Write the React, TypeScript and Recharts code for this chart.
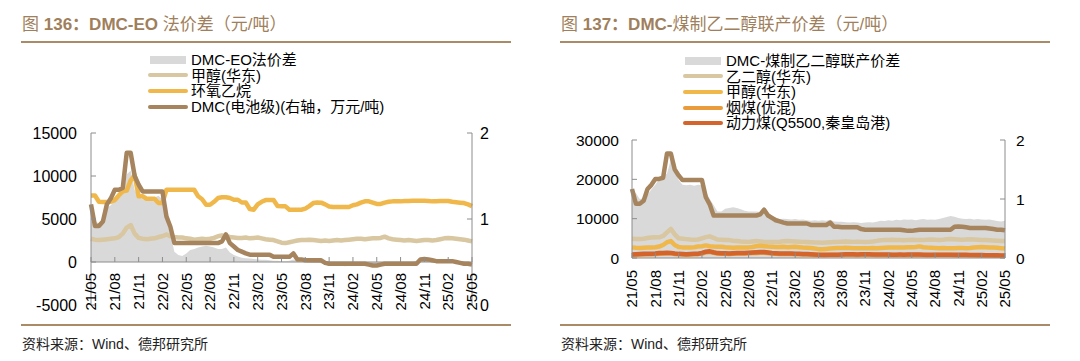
import { ComposedChart, Area, Line, XAxis, YAxis, ReferenceLine, Legend } from "recharts";

const FONT = '"Liberation Sans", Arial, "Noto Sans CJK SC", sans-serif';
const AXIS = "#8c8c8c";
const GRAY = "#d9d9d9";
const TAN = "#d8c7a0";
const GOLD = "#f0b84a";
const BROWN = "#a6845e";
const ORANGE = "#ea9b3c";
const RUST = "#d3642b";
const TITLE = "#9f7f5c";
const RULE = "#a98b67";

// month labels, 21/05 .. 25/05
const months = [
  "21/05", "21/06", "21/07", "21/08", "21/09", "21/10", "21/11", "21/12",
  "22/01", "22/02", "22/03", "22/04", "22/05", "22/06", "22/07", "22/08", "22/09", "22/10", "22/11", "22/12",
  "23/01", "23/02", "23/03", "23/04", "23/05", "23/06", "23/07", "23/08", "23/09", "23/10", "23/11", "23/12",
  "24/01", "24/02", "24/03", "24/04", "24/05", "24/06", "24/07", "24/08", "24/09", "24/10", "24/11", "24/12",
  "25/01", "25/02", "25/03", "25/04", "25/05",
];
// two readings a month (1st and 16th), last month only the 1st
const dates = months.flatMap((m, i) => (i < months.length - 1 ? [m, m + "·16"] : [m]));

// DMC (battery grade), 万元/吨, right axis in both charts
const dmc = [
  1.17, 0.92, 0.92, 0.97, 1.17, 1.24, 1.34, 1.34, 1.36, 1.77, 1.77, 1.5,
  1.4, 1.32, 1.32, 1.32, 1.32, 1.32, 1.32, 1.03, 0.91, 0.72, 0.72, 0.72,
  0.72, 0.72, 0.72, 0.72, 0.72, 0.72, 0.72, 0.72, 0.72, 0.74, 0.82, 0.72,
  0.68, 0.64, 0.62, 0.6, 0.585, 0.585, 0.585, 0.585, 0.585, 0.585, 0.56, 0.56,
  0.56, 0.56, 0.56, 0.6, 0.53, 0.53, 0.52, 0.52, 0.52, 0.52, 0.52, 0.49,
  0.48, 0.48, 0.48, 0.48, 0.48, 0.48, 0.48, 0.48, 0.48, 0.48, 0.47, 0.46,
  0.46, 0.47, 0.48, 0.48, 0.48, 0.48, 0.48, 0.48, 0.48, 0.48, 0.48, 0.53,
  0.535, 0.53, 0.52, 0.51, 0.51, 0.51, 0.51, 0.51, 0.5, 0.49, 0.48, 0.48,
  0.47,
];

// 甲醇(华东), 元/吨
const methanol = [
  2700, 2600, 2550, 2600, 2650, 2700, 2750, 2900, 3300, 4000, 4300, 3300,
  2800, 2700, 2650, 2700, 2750, 2900, 3000, 3200, 3000, 2900, 2850, 2850,
  2750, 2700, 2600, 2650, 2700, 2650, 2700, 2800, 3000, 3100, 3000, 2900,
  2850, 2800, 2800, 2850, 2750, 2800, 2850, 2750, 2650, 2600, 2550, 2400,
  2250, 2200, 2300, 2400, 2500, 2550, 2550, 2600, 2550, 2500, 2450, 2500,
  2450, 2500, 2550, 2500, 2550, 2600, 2650, 2700, 2700, 2650, 2700, 2750,
  2750, 2800, 2950, 2750, 2650, 2600, 2550, 2500, 2550, 2500, 2450, 2500,
  2550, 2550, 2500, 2550, 2650, 2750, 2800, 2750, 2700, 2650, 2600, 2500,
  2400,
];

// 环氧乙烷, 元/吨
const eo = [
  7740, 7740, 7000, 6970, 6970, 7000, 7200, 7740, 8210, 8300, 9500, 10100,
  7640, 7640, 7360, 7360, 7360, 6860, 6860, 8400, 8400, 8400, 8400, 8400,
  8400, 8400, 8400, 7640, 7300, 6660, 6660, 7000, 7440, 7530, 7530, 7440,
  7240, 7240, 6920, 6920, 6160, 6080, 6700, 7000, 7200, 7200, 7200, 6500,
  6470, 6470, 6080, 6080, 6080, 6080, 6200, 6500, 6850, 6920, 6900, 6700,
  6450, 6400, 6400, 6400, 6400, 6400, 6600, 6700, 6900, 7050, 7050, 6900,
  6750, 6750, 6900, 7000, 7050, 7050, 7050, 7100, 7100, 7120, 7120, 7120,
  7120, 7100, 7050, 7050, 7080, 7100, 7100, 7000, 6950, 6900, 6860, 6700,
  6500,
];

// DMC-EO法价差, 元/吨
const dmcEoSpread = [
  6300, 4700, 4500, 4800, 6300, 6600, 7200, 7400, 7900, 10200, 10600, 8400,
  7600, 7300, 7200, 7400, 7500, 7700, 7300, 5000, 3300, 1200, 800, 700,
  1000, 1400, 1500, 1700, 1800, 1900, 1800, 1700, 1500, 1500, 1700, 1100,
  800, 650, 500, 450, 400, 350, 300, 250, 250, 200, 150, 150,
  100, 100, 150, 300, 50, 0, 0, -50, -100, -100, -150, -300,
  -400, -450, -400, -450, -500, -450, -400, -400, -350, -300, -300, -300,
  -250, -300, -300, -250, -300, -250, -200, -150, -100, 0, 100, 200,
  150, 100, 100, 50, 50, 0, 0, 50, 0, -100, -150, -200,
  -300,
];

// DMC-煤制乙二醇联产价差, 元/吨
const coprodSpread = [
  17300, 16500, 15000, 15200, 16000, 17500, 18600, 20000, 20700, 21500, 25000, 24500,
  19800, 18600, 18500, 18600, 18400, 18600, 18500, 17000, 15000, 13500, 11800, 11800,
  12500, 12700, 12900, 12700, 12400, 12000, 11800, 11800, 11800, 11700, 12000, 11500,
  10800, 10300, 9900, 10000, 9900, 9800, 9900, 9700, 9800, 9600, 9500, 9600,
  9500, 9600, 9500, 9700, 9300, 9200, 9200, 9100, 9000, 9100, 9000, 8900,
  9000, 9100, 9000, 9200, 9500, 9400, 9600, 9500, 9700, 9600, 9800, 9700,
  9800, 9600, 9800, 9900, 9700, 9800, 9700, 9900, 10200, 10400, 10700, 10500,
  10200, 10000, 9900, 10000, 9800, 9900, 9800, 9700, 9800, 9600, 9400, 9300,
  9500,
];

// 乙二醇(华东), 元/吨
const eg = [
  4900, 4850, 4800, 4900, 5100, 5200, 5300, 5250, 5600, 6500, 7400, 6000,
  5000, 4900, 4800, 4700, 4650, 4700, 5000, 5300, 5500, 5100, 4700, 4650,
  4600, 4550, 4400, 4300, 4200, 4150, 4100, 4200, 4300, 4200, 4100, 4050,
  4050, 4100, 4150, 4250, 4300, 4250, 4200, 4150, 4100, 4050, 4000, 3950,
  3950, 3900, 3950, 4000, 4050, 4100, 4150, 4200, 4150, 4100, 4150, 4100,
  4050, 4100, 4200, 4350, 4500, 4550, 4600, 4650, 4600, 4550, 4500, 4600,
  4650, 4600, 4550, 4600, 4650, 4700, 4650, 4600, 4650, 4750, 4800, 4750,
  4700, 4650, 4700, 4750, 4700, 4650, 4600, 4550, 4500, 4450, 4400, 4350,
  4350,
];

// 烟煤(优混), 元/吨
const bituminous = [
  780, 820, 870, 920, 930, 970, 1020, 1100, 1150, 1200, 1180, 1030,
  930, 880, 850, 880, 930, 980, 1150, 1450, 1550, 1300, 1120, 1080,
  1070, 1030, 1080, 1120, 1130, 1170, 1210, 1250, 1300, 1350, 1340, 1250,
  1120, 1070, 1030, 1030, 1020, 1020, 980, 930, 880, 880, 840, 790,
  750, 700, 700, 740, 750, 750, 790, 840, 840, 840, 790, 840,
  840, 820, 810, 790, 790, 770, 750, 740, 740, 750, 740, 750,
  760, 750, 750, 740, 730, 730, 740, 740, 740, 740, 740, 730,
  710, 700, 690, 680, 670, 660, 640, 620, 610, 590, 570, 550,
  540,
];

// 动力煤(Q5500,秦皇岛港), 元/吨
const thermal = [
  900, 950, 1000, 1050, 1050, 1100, 1150, 1250, 1300, 1350, 1300, 1150,
  1050, 1000, 950, 1000, 1050, 1100, 1300, 1600, 1700, 1450, 1250, 1200,
  1200, 1150, 1200, 1250, 1250, 1300, 1350, 1400, 1450, 1500, 1500, 1400,
  1250, 1200, 1150, 1150, 1150, 1150, 1100, 1050, 1000, 1000, 950, 900,
  850, 800, 800, 850, 850, 850, 900, 950, 950, 950, 900, 950,
  950, 930, 920, 900, 900, 880, 860, 850, 850, 860, 850, 860,
  870, 860, 860, 850, 840, 840, 850, 850, 850, 850, 850, 840,
  820, 810, 800, 790, 780, 770, 750, 730, 720, 700, 680, 650,
  640,
];

const leftTicks = [-5000, 0, 5000, 10000, 15000];
const dmcTicks = [0, 1, 2];
const coprodTicks = [0, 10000, 20000, 30000];

const leftData = dates.map((d, i) => ({
  d,
  spread: dmcEoSpread[i],
  methanol: methanol[i],
  eo: eo[i],
  dmc: dmc[i],
}));

const rightData = dates.map((d, i) => ({
  d,
  spread: coprodSpread[i],
  eg: eg[i],
  methanol: methanol[i],
  bituminous: bituminous[i],
  thermal: thermal[i],
  dmc: dmc[i],
}));

type LegendItem = { name: string; color: string; kind: "area" | "line" };

const leftLegend: LegendItem[] = [
  { name: "DMC-EO法价差", color: GRAY, kind: "area" },
  { name: "甲醇(华东)", color: TAN, kind: "line" },
  { name: "环氧乙烷", color: GOLD, kind: "line" },
  { name: "DMC(电池级)(右轴，万元/吨)", color: BROWN, kind: "line" },
];

const rightLegend: LegendItem[] = [
  { name: "DMC-煤制乙二醇联产价差", color: GRAY, kind: "area" },
  { name: "乙二醇(华东)", color: TAN, kind: "line" },
  { name: "甲醇(华东)", color: GOLD, kind: "line" },
  { name: "烟煤(优混)", color: ORANGE, kind: "line" },
  { name: "动力煤(Q5500,秦皇岛港)", color: RUST, kind: "line" },
];

const LegendBox = ({ items }: { items: LegendItem[] }) => (
  <div style={{ fontFamily: FONT, fontSize: 15, color: "#000" }}>
    {items.map((it) => (
      <div key={it.name} style={{ display: "flex", alignItems: "center", height: 15.6 }}>
        <span style={{ width: 40, display: "flex", justifyContent: "center" }}>
          {it.kind === "area" ? (
            <span style={{ width: 36, height: 8, background: it.color }} />
          ) : (
            <span style={{ width: 40, height: 4, borderRadius: 2, background: it.color }} />
          )}
        </span>
        <span style={{ marginLeft: 3, whiteSpace: "nowrap", lineHeight: "15.6px" }}>{it.name}</span>
      </div>
    ))}
  </div>
);

// rotated date label, hung below the zero line; tick mark points up into the plot
const DateTick = (props: any) => {
  const { x, y, payload, zeroOffset, gap } = props;
  const y0 = y - zeroOffset;
  const ty = y0 + gap;
  return (
    <g>
      <line x1={x} x2={x} y1={y0} y2={y0 - 5} stroke={AXIS} />
      <text
        x={x}
        y={ty}
        transform={`rotate(-90 ${x} ${ty})`}
        textAnchor="end"
        dy="0.35em"
        fontSize={15}
        fontFamily={FONT}
        fill="#000"
      >
        {payload.value}
      </text>
    </g>
  );
};

const tickStyle = { fontSize: 16, fill: "#000", fontFamily: FONT };

const lineProps = {
  type: "linear" as const,
  dot: false,
  activeDot: false,
  strokeWidth: 4.5,
  strokeLinejoin: "round" as const,
  isAnimationActive: false,
};

const LeftChart = () => (
  <ComposedChart width={540} height={361} data={leftData} margin={{ top: 133, right: 28, bottom: 46, left: 0 }}>
    <XAxis
      dataKey="d"
      interval={5}
      height={10}
      axisLine={false}
      tickLine={false}
      tickSize={0}
      tickMargin={0}
      tick={<DateTick zeroOffset={43} gap={11} />}
    />
    <YAxis
      yAxisId="l"
      width={91}
      domain={[-5000, 15000]}
      ticks={leftTicks}
      tick={tickStyle}
      axisLine={{ stroke: AXIS }}
      tickLine={{ stroke: AXIS }}
      tickSize={-5}
      tickMargin={19}
    />
    <YAxis
      yAxisId="r"
      orientation="right"
      width={40}
      domain={[0, 2]}
      ticks={dmcTicks}
      tick={tickStyle}
      axisLine={{ stroke: AXIS }}
      tickLine={{ stroke: AXIS }}
      tickSize={-5}
      tickMargin={13}
    />
    <Area yAxisId="l" dataKey="spread" type="linear" fill={GRAY} fillOpacity={1} stroke="none" isAnimationActive={false} />
    <ReferenceLine yAxisId="l" y={0} stroke={AXIS} />
    <Line yAxisId="l" dataKey="methanol" stroke={TAN} {...lineProps} />
    <Line yAxisId="l" dataKey="eo" stroke={GOLD} {...lineProps} />
    <Line yAxisId="r" dataKey="dmc" stroke={BROWN} {...lineProps} />
    <Legend
      layout="vertical"
      align="center"
      verticalAlign="middle"
      wrapperStyle={{ left: 148, top: 52, width: "auto", height: "auto" }}
      content={() => <LegendBox items={leftLegend} />}
    />
  </ComposedChart>
);

const RightChart = () => (
  <ComposedChart width={540} height={361} data={rightData} margin={{ top: 140, right: 34, bottom: 93, left: 0 }}>
    <XAxis
      dataKey="d"
      interval={5}
      height={10}
      axisLine={{ stroke: AXIS }}
      tickLine={false}
      tickSize={0}
      tickMargin={0}
      tick={<DateTick zeroOffset={0} gap={12} />}
    />
    <YAxis
      yAxisId="l"
      width={93}
      domain={[0, 30000]}
      ticks={coprodTicks}
      tick={{ ...tickStyle, fontSize: 15.5 }}
      axisLine={{ stroke: AXIS }}
      tickLine={{ stroke: AXIS }}
      tickSize={-5}
      tickMargin={18}
    />
    <YAxis
      yAxisId="r"
      orientation="right"
      width={40}
      domain={[0, 2]}
      ticks={dmcTicks}
      tick={{ ...tickStyle, fontSize: 15.5 }}
      axisLine={{ stroke: AXIS }}
      tickLine={{ stroke: AXIS }}
      tickSize={-5}
      tickMargin={16}
    />
    <Area yAxisId="l" dataKey="spread" type="linear" fill={GRAY} fillOpacity={1} stroke="none" isAnimationActive={false} />
    <Line yAxisId="l" dataKey="eg" stroke={TAN} {...lineProps} />
    <Line yAxisId="l" dataKey="methanol" stroke={GOLD} {...lineProps} />
    <Line yAxisId="l" dataKey="bituminous" stroke={ORANGE} {...lineProps} />
    <Line yAxisId="l" dataKey="thermal" stroke={RUST} {...lineProps} />
    <Line yAxisId="r" dataKey="dmc" stroke={BROWN} legendType="none" {...lineProps} />
    <Legend
      layout="vertical"
      align="center"
      verticalAlign="middle"
      wrapperStyle={{ left: 144, top: 53, width: "auto", height: "auto" }}
      content={() => <LegendBox items={rightLegend} />}
    />
  </ComposedChart>
);

const Panel = ({
  left,
  num,
  boldPart,
  rest,
  children,
}: {
  left: number;
  num: string;
  boldPart: string;
  rest: string;
  children: React.ReactNode;
}) => (
  <div style={{ position: "absolute", left, top: 0, width: 540, height: 361 }}>
    <div
      style={{
        position: "absolute",
        left: 22,
        top: 15,
        fontSize: 17,
        lineHeight: "20px",
        color: TITLE,
        fontFamily: FONT,
        whiteSpace: "nowrap",
      }}
    >
      图 <b>{num}：{boldPart}</b>
      {rest}
    </div>
    <div style={{ position: "absolute", left: 21, top: 41, width: 490, height: 2, background: RULE }} />
    <div style={{ position: "absolute", left: 0, top: 0 }}>{children}</div>
    <div style={{ position: "absolute", left: 21, top: 324, width: 490, height: 2, background: RULE }} />
    <div
      style={{
        position: "absolute",
        left: 22,
        top: 335,
        fontSize: 14,
        lineHeight: "18px",
        color: "#222",
        fontFamily: FONT,
        whiteSpace: "nowrap",
      }}
    >
      资料来源：Wind、德邦研究所
    </div>
  </div>
);

export default function App() {
  return (
    <div style={{ position: "absolute", left: 0, top: 0, width: 1080, height: 361, background: "#fff" }}>
      <Panel left={0} num="136" boldPart="DMC-EO " rest="法价差（元/吨）">
        <LeftChart />
      </Panel>
      <Panel left={539} num="137" boldPart="DMC-" rest="煤制乙二醇联产价差（元/吨）">
        <RightChart />
      </Panel>
    </div>
  );
}
